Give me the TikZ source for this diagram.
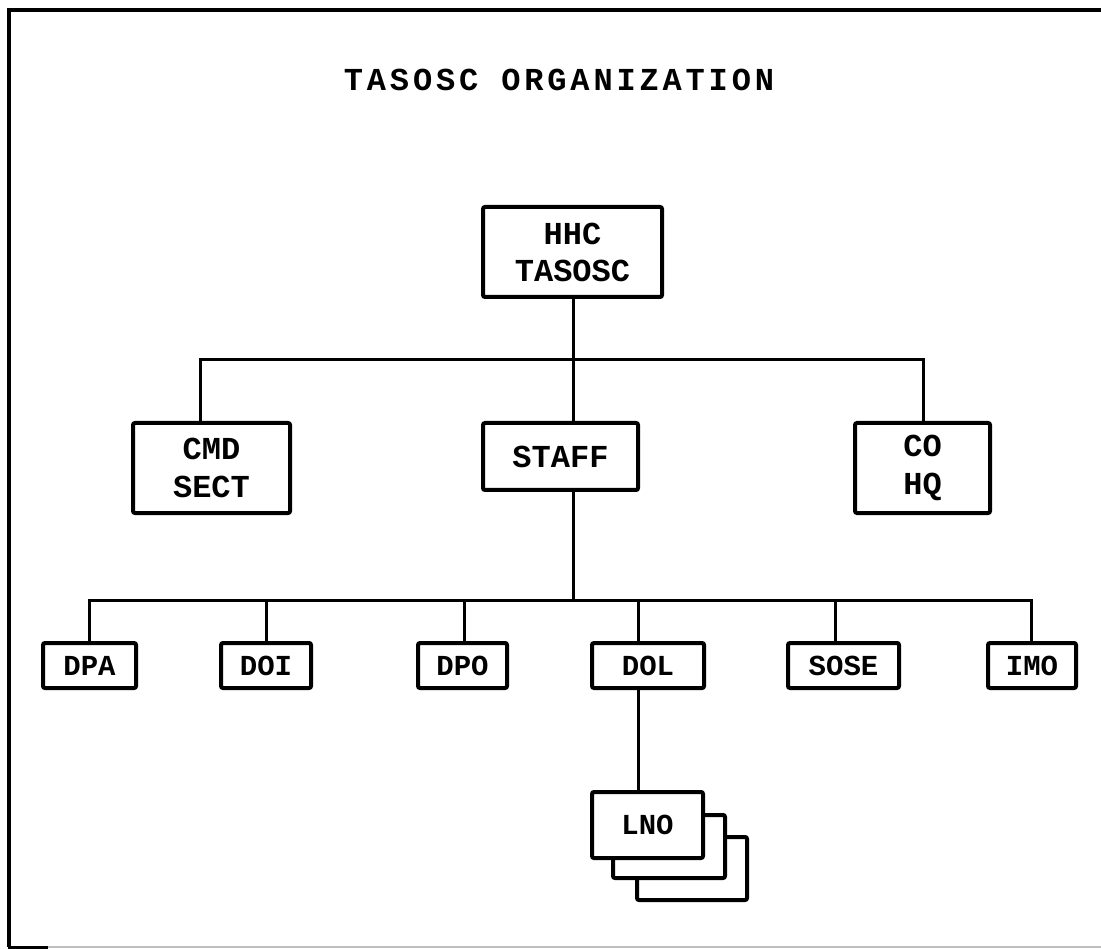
\documentclass[tikz,border=0pt]{standalone}
\usepackage{fontspec}
\newfontfamily\chartfont{Liberation Mono}[BoldFont={Liberation Mono Bold}]
\newfontfamily\titlefont{Liberation Mono}[BoldFont={Liberation Mono Bold},LetterSpace=12]
\begin{document}
\begin{tikzpicture}[x=1pt,y=-1pt,
  unit/.style={draw=black, line width=4, rounded corners=2, fill=white,
    inner sep=0, align=center, font=\chartfont\bfseries\fontsize{32}{36}\selectfont},
  small/.style={unit, font=\chartfont\bfseries\fontsize{29}{33}\selectfont},
  link/.style={line width=3, line cap=rect},
  frame/.style={line width=4}]
\useasboundingbox (0,0) rectangle (1101,949);

% outer frame (left and top edges drawn heavy, bottom faint)
\draw[frame] (9,947) -- (9,10) -- (1101,10);
\draw[line width=2, black!25] (48,947) -- (1101,947);
\draw[line width=3] (8,947) -- (48,947);

% title
\node[font=\titlefont\bfseries\fontsize{32}{36}\selectfont] (title) at (559,80) {TASOSC ORGANIZATION};

% top level
\node[unit, minimum width=179, minimum height=90] (hhc) at (572.5,252) {HHC\\[1pt]TASOSC};

% second level
\node[unit, minimum width=157, minimum height=90] (cmd) at (211.5,468) {CMD\\[2pt]SECT};
\node[unit, minimum width=155, minimum height=67] (staff) at (560.5,456.5) {STAFF};
\node[unit, minimum width=135, minimum height=90] (coh) at (922.5,468) {CO\\[2pt]HQ};

% third level
\node[small, minimum width=93, minimum height=45] (dpa) at (89.5,665.5) {DPA};
\node[small, minimum width=90, minimum height=45] (doi) at (266,665.5) {DOI};
\node[small, minimum width=89, minimum height=45] (dpo) at (462.5,665.5) {DPO};
\node[small, minimum width=112, minimum height=45] (dol) at (648,665.5) {DOL};
\node[small, minimum width=111, minimum height=45] (sose) at (843.5,665.5) {SOSE};
\node[small, minimum width=88, minimum height=45] (imo) at (1032,665.5) {IMO};

% stacked liaison boxes
\node[unit, minimum width=110, minimum height=63] (lno3) at (692,868.5) {};
\node[unit, minimum width=112, minimum height=63] (lno2) at (669,846.5) {};
\node[small, minimum width=111, minimum height=66] (lno) at (647.5,825) {LNO};

% junction points on the bus lines
\coordinate (busA) at (573,360);
\coordinate (busAl) at (200,360);
\coordinate (busAr) at (923,360);
\coordinate (busB) at (573,600);
\coordinate (busBl) at (89,600);
\coordinate (busBr) at (1031,600);

% connectors
\draw[link] (hhc.south -| busA) -- (busA);
\draw[link] (busAl) -- (busAr);
\draw[link] (busAl) -- (busAl |- cmd.north);
\draw[link] (busA) -- (busA |- staff.north);
\draw[link] (busAr) -- (busAr |- coh.north);
\draw[link] (staff.south -| busB) -- (busB);
\draw[link] (busBl) -- (busBr);
\draw[link] (busBl) -- (busBl |- dpa.north);
\draw[link] (doi.north |- busB) -- (doi.north);
\draw[link] (464,600) -- (464,600 |- dpo.north);
\draw[link] (638,600) -- (638,600 |- dol.north);
\draw[link] (835,600) -- (835,600 |- sose.north);
\draw[link] (busBr) -- (busBr |- imo.north);
\draw[link] (638,688) -- (638,688 |- lno.north);
\end{tikzpicture}
\end{document}
